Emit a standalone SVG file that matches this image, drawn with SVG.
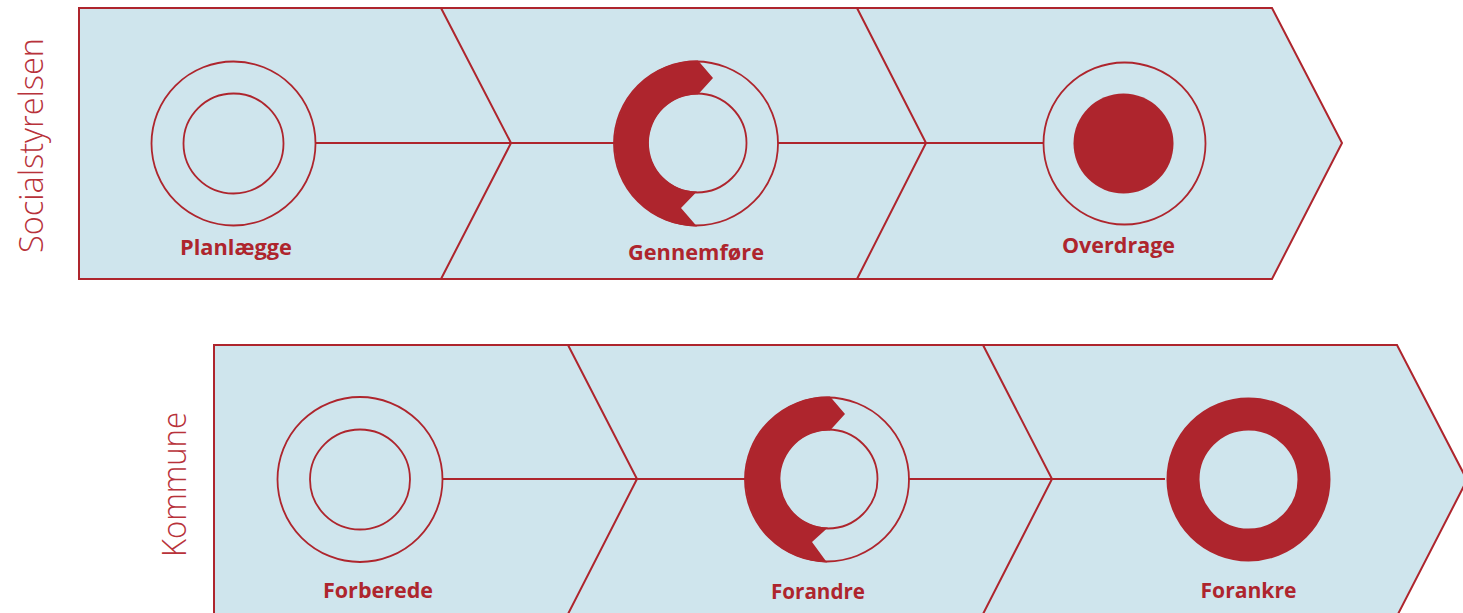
<svg xmlns="http://www.w3.org/2000/svg" width="1463" height="613" viewBox="0 0 1463 613">
<style>
.band{fill:#cfe5ed;stroke:#ae252d;stroke-width:2;stroke-linejoin:miter}
.div{fill:none;stroke:#ae252d;stroke-width:2}
.ring{fill:none;stroke:#ae252d;stroke-width:1.8}
.solid{fill:#ae252d;stroke:none}
.conn{stroke:#ae252d;stroke-width:2;fill:none}
.lbl{font-family:"Open Sans","Liberation Sans",sans-serif;font-weight:700;font-size:21px;fill:#ae252d;text-anchor:middle}
.side{font-family:"Open Sans","Liberation Sans",sans-serif;font-weight:300;font-size:33px;fill:#b8323a;text-anchor:middle}
</style>
<rect width="1463" height="613" fill="#ffffff"/>
<g id="band-socialstyrelsen">
<path class="band" d="M79,8 H1272 L1342,143 L1272,279 H79 Z"/>
<path class="div" d="M441,8 L511,143 L441,279 M857,8 L926,143 L857,279"/>
<text class="side" transform="translate(43,145.5) rotate(-90)" textLength="215" lengthAdjust="spacingAndGlyphs">Socialstyrelsen</text>
</g>
<g id="band-kommune">
<path class="band" d="M214,345 H1397 L1467,480 L1397,616 H214 Z"/>
<path class="div" d="M568,345 L637,479 L568,614 M983,345 L1052,479 L983,614"/>
<text class="side" transform="translate(186,484.5) rotate(-90)" textLength="145" lengthAdjust="spacingAndGlyphs">Kommune</text>
</g>
<g id="connectors">
<line class="conn" x1="315" y1="143" x2="615" y2="143"/>
<line class="conn" x1="778" y1="143" x2="1043" y2="143"/>
<line class="conn" x1="443" y1="479" x2="746" y2="479"/>
<line class="conn" x1="908" y1="479" x2="1165" y2="479"/>
</g>
<g id="planlaegge">
<circle class="ring" cx="233.5" cy="143.5" r="82"/>
<circle class="ring" cx="233.5" cy="143.5" r="50"/>
<text class="lbl" x="236" y="255" textLength="112" lengthAdjust="spacingAndGlyphs">Planlægge</text>
</g>
<g id="gennemfore">
<circle class="ring" cx="696" cy="143.5" r="82"/>
<circle class="ring" cx="697" cy="143" r="49.5"/>
<path class="solid" d="M698,60.5 L713,78 L698,94.4 A48.6,48.6 0 1 0 697,191.6 L681,208 L697,226.5 A83,83 0 1 1 698,60.5 Z"/>
<text class="lbl" x="696" y="260" textLength="136" lengthAdjust="spacingAndGlyphs">Gennemføre</text>
</g>
<g id="overdrage">
<circle class="ring" cx="1124.5" cy="143.5" r="81"/>
<circle class="solid" cx="1123.5" cy="143.5" r="50"/>
<text class="lbl" x="1118.5" y="253" textLength="113" lengthAdjust="spacingAndGlyphs">Overdrage</text>
</g>
<g id="forberede">
<circle class="ring" cx="360" cy="479.5" r="82.5"/>
<circle class="ring" cx="360" cy="479.5" r="50"/>
<text class="lbl" x="378" y="598" textLength="110" lengthAdjust="spacingAndGlyphs">Forberede</text>
</g>
<g id="forandre">
<circle class="ring" cx="827" cy="479.5" r="82"/>
<circle class="ring" cx="828" cy="479" r="49.5"/>
<path class="solid" d="M830,396.5 L845,414 L830,430.4 A48.6,48.6 0 1 0 828,527.6 L812,542 L827,562.5 A83,83 0 1 1 830,396.5 Z"/>
<text class="lbl" x="818" y="599" textLength="94" lengthAdjust="spacingAndGlyphs">Forandre</text>
</g>
<g id="forankre">
<circle cx="1248.5" cy="479.5" r="65.5" fill="none" stroke="#ae252d" stroke-width="33"/>
<text class="lbl" x="1248.5" y="598" textLength="96" lengthAdjust="spacingAndGlyphs">Forankre</text>
</g>
</svg>
